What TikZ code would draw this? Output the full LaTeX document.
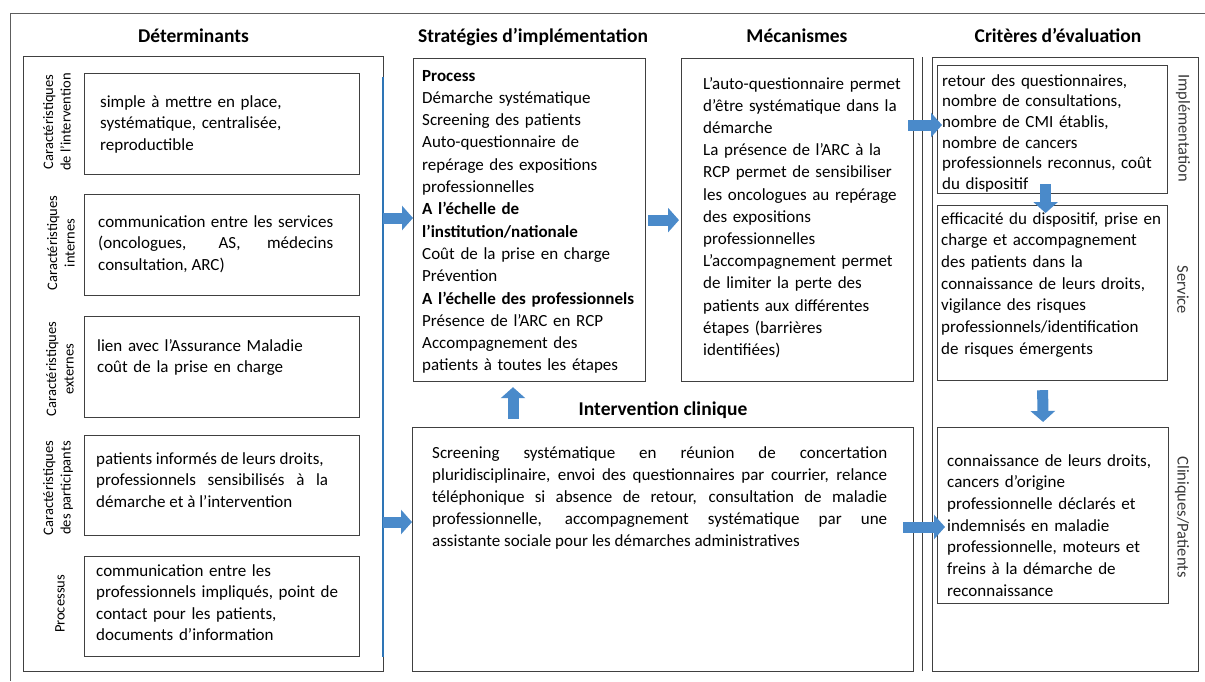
\documentclass[tikz,border=0pt]{standalone}
\usepackage{fontspec}
\setmainfont{Carlito}
\usetikzlibrary{arrows.meta,calc,positioning}
\definecolor{arrowblue}{RGB}{74,138,202}
\definecolor{busblue}{RGB}{46,117,182}
\definecolor{framegray}{RGB}{64,64,64}
\definecolor{lblgray}{RGB}{55,55,55}
\tikzset{
  boxframe/.style={draw=framegray,line width=1.2pt,anchor=north west,inner sep=0pt},
  bodytxt/.style={anchor=base west,inner sep=0pt,align=left,text width=#1,font=\fontsize{17}{21.5}\selectfont},
  bodytxt/.default=240pt,
  coltitle/.style={anchor=base,inner sep=0pt,font=\fontsize{19.5}{23}\selectfont\bfseries},
  sidelbl/.style={rotate=90,align=center,inner sep=0pt,font=\fontsize{14.5}{17.5}\selectfont},
  critlbl/.style={rotate=-90,inner sep=0pt,text=lblgray,font=\fontsize{16.5}{20}\selectfont},
  blockarr/.style={draw=arrowblue,line width=11pt,-{Triangle[width=24pt,length=11pt]}}
}
\begin{document}
\begin{tikzpicture}[x=1pt,y=-1pt]
\useasboundingbox (0,0) rectangle (1205,681);
\draw[framegray!85,line width=1pt] (1205,13) -- (10,13) -- (10,681);

% titres
\node[coltitle] (dettitle) at (193.5,42) {Déterminants};
\node[coltitle] (strattitle) at (533,42) {Stratégies d’implémentation};
\node[coltitle] (mecatitle) at (797,42) {Mécanismes};
\node[coltitle] (crittitle) at (1058,42) {Critères d’évaluation};
\node[coltitle] (intervtitle) at (663,415) {Intervention clinique};

% déterminants
\node[boxframe,minimum width=360pt,minimum height=615pt] (detouter) at (23,56) {};
\node[boxframe,minimum width=275pt,minimum height=101pt] (det1) at (84,73) {};
\node[boxframe,minimum width=275pt,minimum height=101pt] (det2) at (84,194) {};
\node[boxframe,minimum width=275pt,minimum height=101pt] (det3) at (84,316) {};
\node[boxframe,minimum width=275pt,minimum height=100pt] (det4) at (84,435) {};
\node[boxframe,minimum width=275pt,minimum height=100pt] (det5) at (84,556) {};
\node[sidelbl] (lbl1) at (57,122) {Caractéristiques\\de l’intervention};
\node[sidelbl] (lbl2) at (61,243) {Caractéristiques\\internes};
\node[sidelbl] (lbl3) at (60,369) {Caractéristiques\\externes};
\node[sidelbl] (lbl4) at (58,488) {Caractéristiques\\des participants};
\node[sidelbl] (lbl5) at (60,604) {Processus};
\node[bodytxt] (det1txt) at (100,107) {simple à mettre en place,\\systématique, centralisée,\\reproductible};
\node[bodytxt=235pt,align=justify] (det2txt) at (98,227) {communication entre les services\linebreak (oncologues, AS, médecins\linebreak consultation, ARC)};
\node[bodytxt] (det3txt) at (97,351) {lien avec l’Assurance Maladie\\coût de la prise en charge};
\node[bodytxt=232pt,align=justify] (det4txt) at (96,464) {patients informés de leurs droits,\\professionnels sensibilisés à la\linebreak démarche et à l’intervention};
\node[bodytxt=250pt] (det5txt) at (96,576) {communication entre les\\professionnels impliqués, point de\\contact pour les patients,\\documents d’information};

% stratégies et mécanismes
\node[boxframe,minimum width=232pt,minimum height=323pt] (strat) at (413,58) {};
\node[boxframe,minimum width=232pt,minimum height=323pt] (meca) at (681,58) {};
\draw[framegray,line width=1pt] (922,57) -- (922,671);
\node[bodytxt=222pt,font=\fontsize{17}{22.3}\selectfont] (strattxt) at (422,81) {\textbf{Process}\\Démarche systématique\\Screening des patients\\Auto-questionnaire de\\repérage des expositions\\professionnelles\\\textbf{A l’échelle de}\\\textbf{l’institution/nationale}\\Coût de la prise en charge\\Prévention\\\textbf{A l’échelle des professionnels}\\Présence de l’ARC en RCP\\Accompagnement des\\patients à toutes les étapes};
\node[bodytxt=205pt,font=\fontsize{17}{22.2}\selectfont] (mecatxt) at (703,89) {L’auto-questionnaire permet\\d’être systématique dans la\\démarche\\La présence de l’ARC à la\\RCP permet de sensibiliser\\les oncologues au repérage\\des expositions\\professionnelles\\L’accompagnement permet\\de limiter la perte des\\patients aux différentes\\étapes (barrières\\identifiées)};

% intervention clinique
\node[boxframe,minimum width=501pt,minimum height=244pt] (interv) at (412,427) {};
\node[bodytxt=455pt,align=justify,font=\fontsize{17}{22}\selectfont] (intervtxt) at (432,458) {Screening systématique en réunion de concertation\linebreak pluridisciplinaire, envoi des questionnaires par courrier, relance\linebreak téléphonique si absence de retour, consultation de maladie\linebreak professionnelle, accompagnement systématique par une\linebreak assistante sociale pour les démarches administratives};

% critères
\node[boxframe,minimum width=266pt,minimum height=614pt] (critouter) at (932,57) {};
\node[boxframe,minimum width=230pt,minimum height=128pt] (crit1) at (937,65) {};
\node[boxframe,minimum width=230pt,minimum height=175pt] (crit2) at (937,205) {};
\node[boxframe,minimum width=231pt,minimum height=176pt] (crit3) at (937,427) {};
\node[critlbl] (critlbl1) at (1183,128) {Implémentation};
\node[critlbl] (critlbl2) at (1183,290) {Service};
\node[critlbl] (critlbl3) at (1182,517) {Cliniques/Patients};
\node[bodytxt=222pt,font=\fontsize{17}{20.7}\selectfont] (crit1txt) at (942,86) {retour des questionnaires,\\nombre de consultations,\\nombre de CMI établis,\\nombre de cancers\\professionnels reconnus, coût\\du dispositif};
\node[bodytxt=230pt,font=\fontsize{17}{21.7}\selectfont] (crit2txt) at (941,224) {efficacité du dispositif, prise en\\charge et accompagnement\\des patients dans la\\connaissance de leurs droits,\\vigilance des risques\\professionnels/identification\\de risques émergents};
\node[bodytxt=222pt,font=\fontsize{17}{21.7}\selectfont] (crit3txt) at (947,466) {connaissance de leurs droits,\\cancers d’origine\\professionnelle déclarés et\\indemnisés en maladie\\professionnelle, moteurs et\\freins à la démarche de\\reconnaissance};

% flèches
\coordinate (bustop) at (383,77);
\coordinate (busbot) at (383,657);
\coordinate (bus1) at (383,218);
\coordinate (bus2) at (383,522);
\coordinate (m2c) at (908,125);
\coordinate (i2c) at (903,527);
\coordinate (upfoot) at (513,419);
\draw[busblue,line width=2.5pt] (bustop) -- (busbot);
\draw[blockarr] (bus1) -- (bus1 -| strat.west);
\draw[blockarr] (bus2) -- (bus2 -| interv.west);
\draw[blockarr,shorten <=2pt,shorten >=2pt] (strat.east) -- (meca.west);
\draw[blockarr] (m2c) -- ($(m2c -| crit1.west)+(5,0)$);
\draw[blockarr] (i2c) -- ($(i2c -| crit3.west)+(8,0)$);
\draw[blockarr] (upfoot) -- ($(upfoot |- strat.south)+(0,5)$);
\draw[blockarr] ($(crit1.south)+(-7,-10)$) -- ($(crit2.north)+(-7,8)$);
\draw[blockarr] ($(crit2.south)+(-10,9)$) -- ($(crit3.north)+(-10,-5)$);
\end{tikzpicture}
\end{document}
